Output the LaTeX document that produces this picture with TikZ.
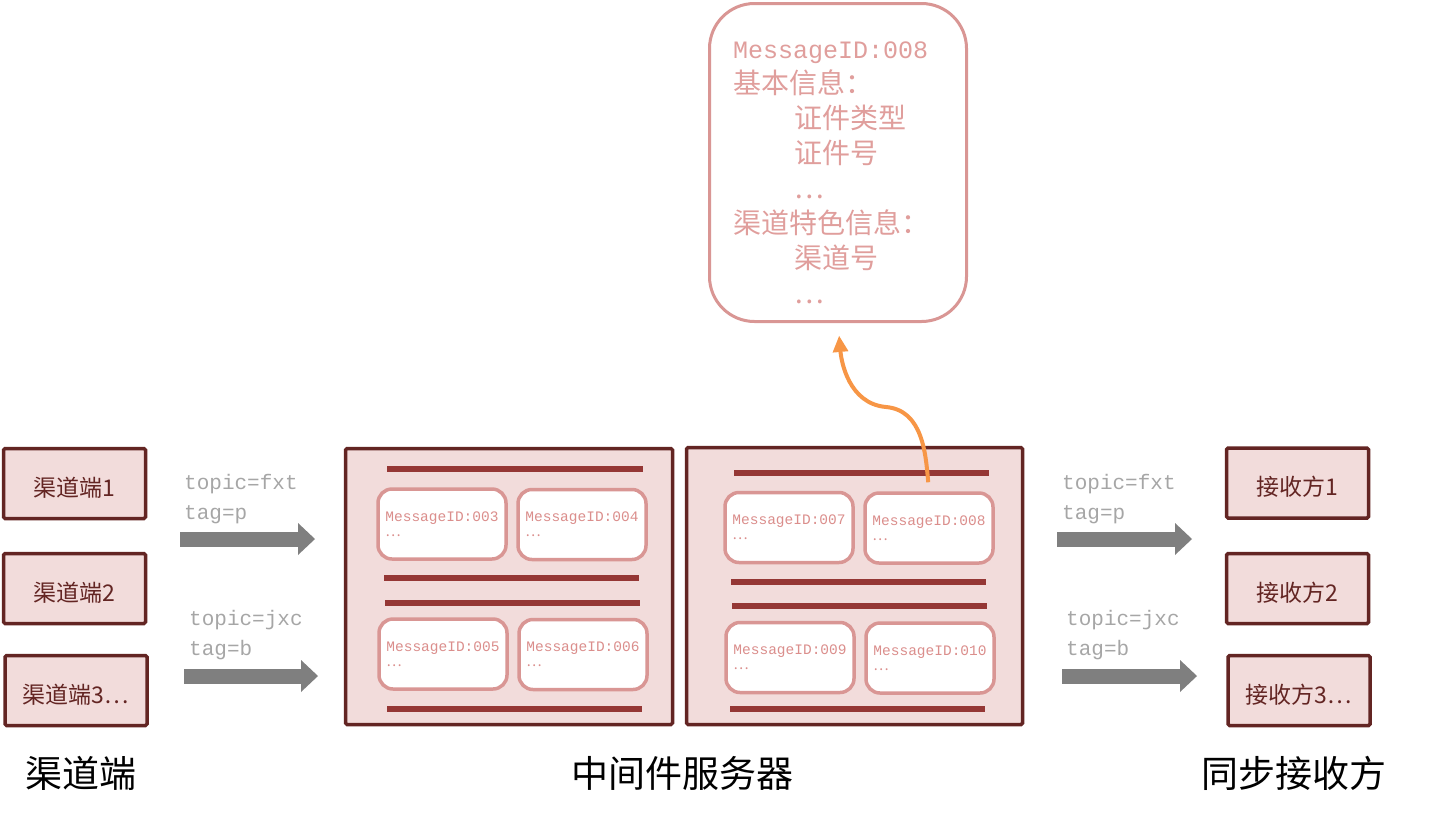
\documentclass[tikz,border=0pt]{standalone}
\usepackage{fontspec}
\setmainfont{Liberation Serif}
\setmonofont{Liberation Mono}
\newfontfamily\cjk{Noto Sans CJK SC}
\usetikzlibrary{arrows.meta, positioning}
\definecolor{boxfill}{HTML}{F2DCDB}
\definecolor{boxline}{HTML}{632523}
\definecolor{barcolor}{HTML}{953735}
\definecolor{msgline}{HTML}{D99694}
\definecolor{msgtext}{HTML}{DB8E8C}
\definecolor{poptext}{HTML}{E09E9C}
\definecolor{topictext}{HTML}{A6A6A6}
\definecolor{flowgray}{HTML}{7F7F7F}
\definecolor{pickorange}{HTML}{F79646}

\begin{document}
\begin{tikzpicture}[
  x=1pt, y=1pt,
  endbox/.style={draw=boxline, line width=3.5pt, fill=boxfill, rounded corners=1.5pt,
                 minimum width=142pt, minimum height=70pt, text=boxline,
                 text height=27pt, text depth=2pt,
                 font=\cjk\fontsize{23}{26}\selectfont},
  server/.style={draw=boxline, line width=3.5pt, fill=boxfill, rounded corners=1.5pt},
  msg/.style={draw=msgline, line width=3.5pt, fill=white, rounded corners=14pt,
              minimum width=128pt, minimum height=70pt, align=left, text=msgtext,
              font=\ttfamily\fontsize{14.5}{15}\selectfont},
  bar/.style={barcolor, line width=6pt},
  topic/.style={anchor=west, inner sep=0pt, align=left, text=topictext,
                font=\ttfamily\fontsize{21}{30}\selectfont},
  flow/.style={flowgray, line width=15pt, -{Triangle[length=17pt, width=32pt, line width=0pt]}},
  pick/.style={pickorange, line width=4pt, -{Triangle[length=16pt, width=16pt, line width=0pt]}},
  caption/.style={font=\cjk\fontsize{37}{40}\selectfont}
]
  \useasboundingbox (0,0) rectangle (1431,-817);

  % channel side
  \node[endbox] (src1) at (74.5,-483.5) {渠道端1};
  \node[endbox] (src2) at (74.5,-588.5) {渠道端2};
  \node[endbox] (src3) at (76,-690.5) {渠道端3⋯};

  % middleware servers
  \node[server, minimum width=327pt, minimum height=276pt] (srv1) at (509,-586.5) {};
  \node[server, minimum width=336pt, minimum height=277pt] (srv2) at (854.5,-586) {};
  \draw[bar] (387,-469) -- (643,-469);
  \draw[bar] (384,-578) -- (639,-578);
  \draw[bar] (385,-603) -- (640,-603);
  \draw[bar] (387,-709) -- (642,-709);
  \draw[bar] (734,-473) -- (989,-473);
  \draw[bar] (731,-582) -- (986,-582);
  \draw[bar] (732,-606) -- (987,-606);
  \draw[bar] (730,-709) -- (985,-709);
  \node[msg] (m3) at (442,-524) {MessageID:003\\{\cjk ⋯}};
  \node[msg] (m4) at (582,-524.5) {MessageID:004\\{\cjk ⋯}};
  \node[msg] (m5) at (443,-654) {MessageID:005\\{\cjk ⋯}};
  \node[msg] (m6) at (583,-654.5) {MessageID:006\\{\cjk ⋯}};
  \node[msg] (m7) at (789,-527.5) {MessageID:007\\{\cjk ⋯}};
  \node[msg] (m8) at (929,-528) {MessageID:008\\{\cjk ⋯}};
  \node[msg] (m9) at (790,-657.5) {MessageID:009\\{\cjk ⋯}};
  \node[msg] (m10) at (930,-658) {MessageID:010\\{\cjk ⋯}};

  % receivers
  \node[endbox] (dst1) at (1297.5,-483) {接收方1};
  \node[endbox] (dst2) at (1297.5,-588.5) {接收方2};
  \node[endbox] (dst3) at (1299,-690.5) {接收方3⋯};

  % message detail
  \node[draw=msgline, line width=3pt, fill=white, rounded corners=45pt,
        minimum width=257pt, minimum height=318pt] (pop) at (838,-162.5) {};
  \node[align=left, text=poptext, font=\cjk\fontsize{28}{35}\selectfont]
    (poptxt) at (831,-173)
    {{\ttfamily\fontsize{25}{35}\selectfont MessageID:008}\\
     基本信息：\\
     \hspace*{61pt}证件类型\\
     \hspace*{61pt}证件号\\
     \hspace*{61pt}⋯\\
     渠道特色信息：\\
     \hspace*{61pt}渠道号\\
     \hspace*{61pt}⋯};

  % flows
  \coordinate (in1s) at (180,-539);  \coordinate (in1e) at (315,-539);
  \coordinate (in2s) at (184,-676);  \coordinate (in2e) at (318,-676);
  \coordinate (out1s) at (1057,-539); \coordinate (out1e) at (1192,-539);
  \coordinate (out2s) at (1062,-676); \coordinate (out2e) at (1197,-676);
  \draw[flow] (in1s) -- (in1e);
  \draw[flow] (in2s) -- (in2e);
  \draw[flow] (out1s) -- (out1e);
  \draw[flow] (out2s) -- (out2e);
  \node[topic] (t1) at (184,-499) {topic=fxt\\tag=p};
  \node[topic] (t2) at (189,-635) {topic=jxc\\tag=b};
  \node[topic] (t3) at (1062,-499) {topic=fxt\\tag=p};
  \node[topic] (t4) at (1066,-635) {topic=jxc\\tag=b};

  \coordinate (bend) at (886,-407);
  \draw[pick, shorten <=9pt, shorten >=13pt] (m8.north) to[out=95,in=-5] (bend)
    to[out=175,in=-85] (pop.south);

  % captions
  \node[caption] (capsrc) at (81,-773) {渠道端};
  \node[caption] (capmid) at (682,-773) {中间件服务器};
  \node[caption] (capdst) at (1294,-773) {同步接收方};
\end{tikzpicture}
\end{document}
